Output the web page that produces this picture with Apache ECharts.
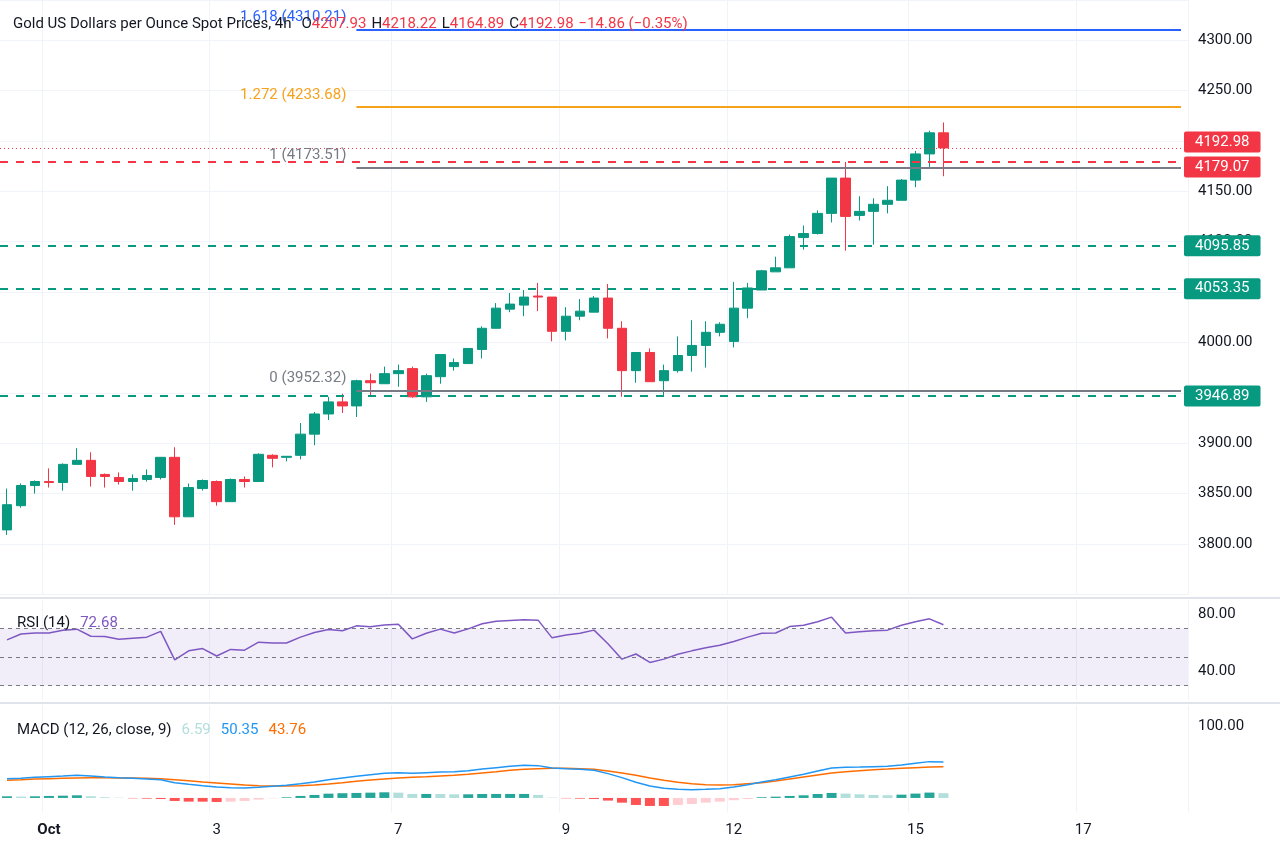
<!DOCTYPE html>
<html><head><meta charset="utf-8">
<script src="https://cdn.jsdelivr.net/npm/echarts@6/dist/echarts.min.js"></script>
<style>html,body{margin:0;padding:0;background:#fff}#c{width:1280px;height:847px}</style>
</head><body><div id="c"></div>
<script>
const open  = [3814,3838,3858,3862,3861,3879,3883,3869,3866,3862,3864,3866,3886,3827,3855,3862,3842,3864,3862,3888,3886,3888,3909,3929,3941,3937,3962,3959,3969,3974,3946,3966,3976,3979,3993,4014,4033,4037,4046,4045,4011,4026,4030,4044,4014,3972,3990,3962,3972,3987,3997,4010,4001,4034,4052,4070,4074,4104,4108,4128,4163,4126,4130,4137,4141,4161,4187,4207.93];
const close = [3839,3858,3862,3861,3879,3883,3867,3867,3862,3865,3868,3886,3827,3856,3863,3842,3864,3862,3889,3885,3887,3909,3929,3941,3937,3962,3960,3969,3972,3946,3967,3988,3980,3994,4014,4034,4038,4045,4045,4011,4026,4031,4044,4014,3972,3990,3961,3972,3987,3997,4010,4018,4034,4054,4071,4074,4105,4108,4128,4163,4125,4130,4137,4141,4161,4187,4207.93,4192.98];
const high  = [3855,3860,3863,3875,3880,3895,3891,3870,3871,3869,3874,3886,3896,3860,3864,3863,3865,3867,3890,3889,3887,3920,3931,3946,3949,3963,3969,3976,3978,3976,3969,3988,3984,3994,4016,4039,4049,4052,4059,4045,4035,4043,4046,4058,4021,3990,3994,3978,4006,4022,4021,4020,4060,4059,4072,4085,4107,4116,4131,4163,4179,4145,4143,4155,4162,4190,4210,4218.22];
const low   = [3809,3836,3850,3856,3853,3879,3857,3856,3859,3853,3862,3864,3819,3827,3853,3838,3842,3856,3862,3876,3882,3884,3898,3923,3930,3926,3947,3959,3956,3945,3941,3959,3972,3979,3984,4014,4030,4026,4031,4001,4002,4022,4030,4004,3946,3960,3961,3947,3970,3971,3975,4006,3995,4024,4052,4070,4074,4092,4107,4119,4091,4121,4097,4128,4141,4154,4174,4164.89];
const rsi = [62.1,66.2,66.9,66.9,68.9,69.6,64.6,64.4,62.6,63.3,64,68,48.1,54.4,56,50.8,55.4,54.9,60.5,59.9,59.9,64,67.3,69.4,68.5,71.9,71.2,72.5,73,62.8,66.7,69.6,66.9,69.8,73.4,75.2,75.7,76.1,75.9,63.5,65.5,66.7,68.9,59.4,48.6,52.2,46.3,48.6,52,54.4,56.5,58.3,61,64,66.7,66.9,71.4,72.3,74.8,78,66.9,67.8,68.5,68.9,72.3,74.8,76.8,72.68];
const macd = [27,27.5,28.9,29.8,30.7,31.7,30.8,29.4,28.4,27.5,26.6,25.6,21.4,19.1,17.2,15.4,14.4,14,14.9,16.3,17.7,20,22.4,25.6,28,30.3,32.6,34.5,35.4,34.5,35.4,36.3,36.8,38.2,40.5,42.4,44.3,45.7,45.2,42,41,40.1,38.7,34,28.4,21.9,16.8,13.5,12.1,11.6,12.1,13,15.4,18.6,22.4,25.6,29.4,33.1,37.7,42,42.9,43.3,43.8,44.3,46.1,48.5,50.8,50.35];
const signal = [24.7,25.6,26.6,27,27.5,28,28.4,28.4,28,28,27.5,27,25.6,24.2,22.4,21,19.6,18.2,17.2,16.8,16.8,17.2,18.2,19.6,21.4,23.3,25.2,26.6,28,28.9,29.8,30.8,31.7,33.1,35,36.8,38.7,40.1,41,41.5,41.5,41,40.1,37.7,35,31.7,28,24.7,21.9,20,18.6,18.2,18.6,20,21.4,23.8,26.6,29.4,32.2,35,36.8,38.2,39.6,40.5,41.5,42.4,43.3,43.76];
const hist = [2.3,1.9,2.3,2.8,3.2,3.7,2.4,1.0,0.4,-0.5,-0.9,-1.4,-4.2,-5.1,-5.2,-5.6,-5.2,-4.2,-2.3,-0.5,0.9,2.8,4.2,6.0,6.6,7.0,7.4,7.9,7.4,5.6,5.6,5.5,5.1,5.1,5.5,5.6,5.6,5.6,4.2,0.5,-0.5,-0.9,-1.4,-3.7,-6.6,-9.8,-11.2,-11.2,-9.8,-8.4,-6.5,-5.2,-3.2,-1.4,1.0,1.8,2.8,3.7,5.5,7.0,6.1,5.1,4.2,3.8,4.6,6.1,7.5,6.59];
const tickLabels = {3:'Oct',15:'3',28:'7',40:'9',52:'12',65:'15',77:'17'};
const fibLevels = [[4310.21,'1.618 (4310.21)','#2962ff'],[4233.68,'1.272 (4233.68)','#f7a21b'],[4173.51,'1 (4173.51)','#787b86'],[3952.32,'0 (3952.32)','#787b86']];
const supportLevels = [4095.85,4053.35,3946.89];
const NSLOT = 85;
const cats = Array.from({length:NSLOT},(_,i)=>String(i));
const UP='#089981', DOWN='#f23645';
const F='Roboto';

const candleData = open.map((o,i)=>[o,close[i],low[i],high[i]]);
const histData = hist.map((v,i)=>{
  const prev = i>0?hist[i-1]:v;
  let c;
  if(v>=0) c = v>=prev?'#26a69a':'#b2dfdb'; else c = v<=prev?'#ff5252':'#ffcdd2';
  return {value:v,itemStyle:{color:c}};
});

const boxLabel=(bg,fg,off)=>({show:true,position:'end',distance:-4,color:fg||'#fff',backgroundColor:bg,padding:[3,11,3,11],fontSize:15,fontFamily:F,borderRadius:2,offset:off||[0,0],formatter:p=>p.value.toFixed(2)});

const mlPrice = [];
fibLevels.forEach(([v,t,c])=>{
  mlPrice.push([{coord:['25',v],lineStyle:{color:c,width:2,type:'solid'},label:{show:true,position:'start',formatter:t,color:c,fontSize:15,fontFamily:F,offset:[0,-12],distance:10}},{coord:['84',v]}]);
});
supportLevels.forEach(v=>mlPrice.push({yAxis:v,lineStyle:{color:UP,width:2,type:[8,8]},label:boxLabel(UP)}));
mlPrice.push({yAxis:4179.07,lineStyle:{color:DOWN,width:2,type:[8,8]},label:boxLabel(DOWN,'#fff',[0,5])});
mlPrice.push({yAxis:4192.98,lineStyle:{color:DOWN,width:1,type:[1,3]},label:boxLabel(DOWN,'#fff',[0,-6])});

const xBase = (gi,showLabel)=>({type:'category',gridIndex:gi,data:cats,boundaryGap:true,
  axisLine:{show:false},axisTick:{show:false},
  axisLabel:{show:showLabel,interval:0,formatter:v=>tickLabels[v]==='Oct'?'{b|Oct}':(tickLabels[v]||''),color:'#131722',fontSize:15,fontFamily:F,margin:10,
    rich:{b:{fontWeight:'bold',fontSize:15,fontFamily:F,color:'#131722'}}},
  splitLine:{show:true,interval:(i)=>tickLabels[i]!==undefined,lineStyle:{color:'#f0f3fa'}}});

const chart = echarts.init(document.getElementById('c'));
const gridL=-2, gridR=1280-(-2+NSLOT*14);
const T=(c)=>({color:c,fontSize:15,fontFamily:F,fontWeight:'normal'});
chart.setOption({
  animation:false,
  backgroundColor:'#fff',
  title:[{text:'{n|Gold US Dollars per Ounce Spot Prices, 4h}  {k|O}{v|4207.93} {k|H}{v|4218.22} {k|L}{v|4164.89} {k|C}{v|4192.98} {v|−14.86 (−0.35%)}',
    left:8,top:10,textStyle:{fontWeight:'normal',rich:{n:T('#131722'),k:T('#131722'),v:T(DOWN)}}},
    {text:'{n|RSI (14)}  {v|72.68}',left:12,top:609,textStyle:{fontWeight:'normal',rich:{n:T('#131722'),v:T('#7e57c2')}}},
    {text:'{n|MACD (12, 26, close, 9)}  {h|6.59}  {m|50.35}  {s|43.76}',left:12,top:716,textStyle:{fontWeight:'normal',rich:{n:T('#131722'),h:T('#b2dfdb'),m:T('#2196f3'),s:T('#ff6d00')}}}],
  grid:[
    {left:gridL,right:gridR,top:0,height:594.4},
    {left:gridL,right:gridR,top:600,height:100},
    {left:gridL,right:gridR,top:705,height:107.25}],
  xAxis:[xBase(0,false),xBase(1,false),xBase(2,true)],
  yAxis:[
    {gridIndex:0,position:'right',min:3750,max:4339.7,interval:50,axisLine:{show:false},axisTick:{show:false},
      axisLabel:{color:'#131722',fontSize:15,fontFamily:F,margin:10,formatter:v=>(v<3800||v>4300)?'':v.toFixed(2)},splitLine:{lineStyle:{color:'#f0f3fa'}}},
    {gridIndex:1,position:'right',min:20,max:90,interval:20,axisLine:{show:false},axisTick:{show:false},
      axisLabel:{color:'#131722',fontSize:15,fontFamily:F,margin:10,formatter:v=>(v===40||v===80)?v.toFixed(2):''},splitLine:{show:false}},
    {gridIndex:2,position:'right',min:-20,max:130,interval:10,axisLine:{show:false},axisTick:{show:false},
      axisLabel:{color:'#131722',fontSize:15,fontFamily:F,margin:10,formatter:v=>v===100?v.toFixed(2):''},splitLine:{show:false}}],
  series:[
    {type:'candlestick',xAxisIndex:0,yAxisIndex:0,data:candleData,barWidth:10,
      itemStyle:{color:UP,color0:DOWN,borderColor:UP,borderColor0:DOWN,borderWidth:1},
      markLine:{symbol:'none',silent:true,animation:false,data:mlPrice}},
    {type:'line',xAxisIndex:1,yAxisIndex:1,data:rsi,symbol:'none',lineStyle:{color:'#7e57c2',width:1.5},
      markArea:{silent:true,itemStyle:{color:'rgba(126,87,194,0.1)'},data:[[{yAxis:30},{yAxis:70}]]},
      markLine:{symbol:'none',silent:true,data:[
        {yAxis:70,lineStyle:{color:'#787b86',type:[4,4],width:1},label:{show:false}},
        {yAxis:50,lineStyle:{color:'#787b86',type:[4,4],width:1},label:{show:false}},
        {yAxis:30,lineStyle:{color:'#787b86',type:[4,4],width:1},label:{show:false}},
        {yAxis:72.68,lineStyle:{opacity:0},label:boxLabel('#7e57c2')}]}},
    {type:'bar',xAxisIndex:2,yAxisIndex:2,data:histData,barWidth:10,
      markLine:{symbol:'none',silent:true,data:[{yAxis:6.59,lineStyle:{opacity:0},label:boxLabel('#b2dfdb','#131722',[0,-4])}]}},
    {type:'line',xAxisIndex:2,yAxisIndex:2,data:signal,symbol:'none',lineStyle:{color:'#ff6d00',width:1.5},
      markLine:{symbol:'none',silent:true,data:[{yAxis:43.76,lineStyle:{opacity:0},label:boxLabel('#ff6d00')}]}},
    {type:'line',xAxisIndex:2,yAxisIndex:2,data:macd,symbol:'none',lineStyle:{color:'#2196f3',width:1.5},
      markLine:{symbol:'none',silent:true,data:[{yAxis:50.35,lineStyle:{opacity:0},label:boxLabel('#2196f3','#fff',[0,-20])}]}}
  ],
  graphic:[
    {type:'rect',shape:{x:0,y:597,width:1280,height:2},style:{fill:'#e0e3eb'},silent:true},
    {type:'rect',shape:{x:0,y:702,width:1280,height:2},style:{fill:'#e0e3eb'},silent:true}]
});
</script></body></html>
